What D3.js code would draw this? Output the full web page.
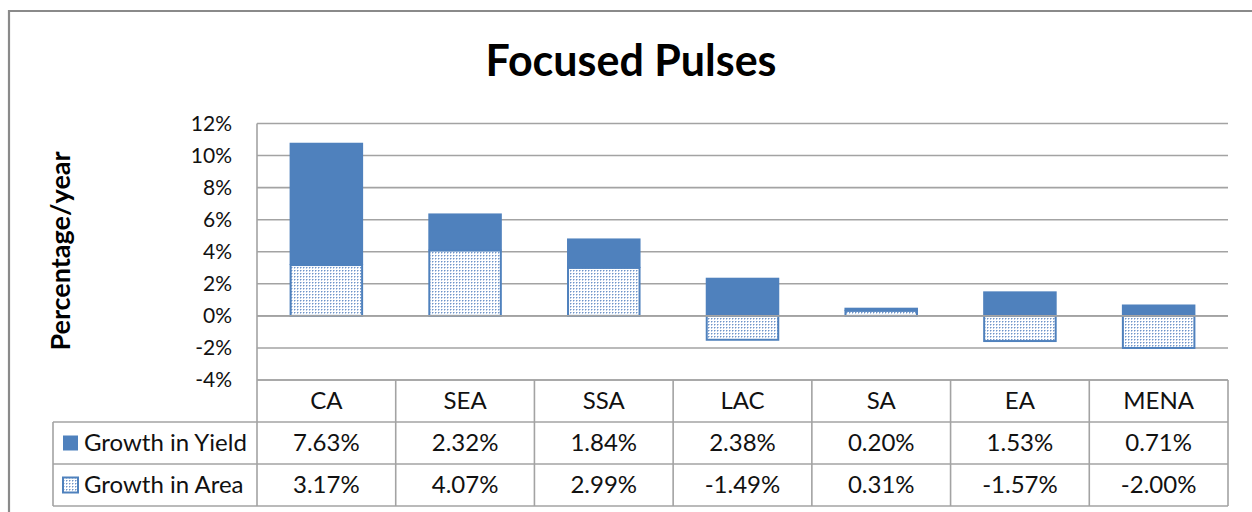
<!DOCTYPE html>
<html><head><meta charset="utf-8">
<script src="https://cdn.jsdelivr.net/npm/d3@7"></script>
<style>
html,body{margin:0;padding:0;background:#fff;}
svg{display:block;font-family:Lato,"Open Sans",sans-serif;}
</style></head>
<body><svg id="c" width="1252" height="512"></svg>
<script>
const title = "Focused Pulses";
const yLabel = "Percentage/year";
const categories = ["CA","SEA","SSA","LAC","SA","EA","MENA"];
const seriesNames = ["Growth in Yield","Growth in Area"];
const yieldValues = [7.63,2.32,1.84,2.38,0.20,1.53,0.71];
const areaValues = [3.17,4.07,2.99,-1.49,0.31,-1.57,-2.00];
const yieldLabels = ["7.63%","2.32%","1.84%","2.38%","0.20%","1.53%","0.71%"];
const areaLabels = ["3.17%","4.07%","2.99%","-1.49%","0.31%","-1.57%","-2.00%"];
const yTicks = [-4,-2,0,2,4,6,8,10,12];

const svg = d3.select("#c");
const blue = "#4F81BD", grid = "#a3a3a3", txt = "#111";
const L = 257, R = 1228, T = 123.5, B = 380;
const tableL = 53, rowH = 42;

// pattern for Area series
const defs = svg.append("defs");
const pat = defs.append("pattern").attr("id","dots").attr("patternUnits","userSpaceOnUse")
  .attr("width",3).attr("height",3);
pat.append("rect").attr("width",3).attr("height",3).attr("fill","#fff");
pat.append("rect").attr("x",0).attr("y",0).attr("width",1).attr("height",1).attr("fill","#6f95c8");
pat.append("rect").attr("x",1).attr("y",0).attr("width",1).attr("height",1).attr("fill","#b9cbe6");
pat.append("rect").attr("x",0).attr("y",1).attr("width",1).attr("height",1).attr("fill","#b9cbe6");

// outer chart border
svg.append("path").attr("d","M9,520 V11 H1260").attr("fill","none").attr("stroke","#8a8a8a").attr("stroke-width",2.2);

// title
svg.append("text").attr("x",631).attr("y",76).attr("text-anchor","middle")
  .attr("font-size",43).attr("font-weight","bold").attr("fill","#000").text(title);

// y label
svg.append("text").attr("transform","translate(70,251) rotate(-90)").attr("text-anchor","middle")
  .attr("font-size",27).attr("font-weight","bold").attr("fill","#000").text(yLabel);

const y = d3.scaleLinear().domain([-4,12]).range([B,T]);
const x = d3.scaleBand().domain(categories).range([L,R]).paddingInner(0.47).paddingOuter(0.235);
const col = d3.scaleBand().domain(categories).range([L,R]).padding(0);

// gridlines
svg.append("g").selectAll("line").data(yTicks).join("line")
  .attr("x1",L).attr("x2",R).attr("y1",d=>y(d)).attr("y2",d=>y(d))
  .attr("stroke",grid).attr("stroke-width",1.6);

// y axis
const yAxis = d3.axisLeft(y).tickValues(yTicks).tickFormat(d=>d+"%").tickSize(0).tickPadding(25);
const gy = svg.append("g").attr("transform",`translate(${L},0)`).call(yAxis);
gy.select(".domain").remove();
gy.selectAll("text").attr("font-size",21).attr("fill",txt).attr("font-family","Lato");

// bars
const stacks = categories.map((c,i)=>{
  const a = areaValues[i], yv = yieldValues[i];
  const aBase = 0, aTop = a;
  const yBase = a >= 0 ? a : 0, yTop = yBase + yv;
  return {c, aBase, aTop, yBase, yTop};
});
const gb = svg.append("g");
gb.selectAll("rect.yield").data(stacks).join("rect").attr("class","yield")
  .attr("x",d=>x(d.c)).attr("width",x.bandwidth())
  .attr("y",d=>y(Math.max(d.yBase,d.yTop))).attr("height",d=>Math.abs(y(d.yBase)-y(d.yTop)))
  .attr("fill",blue);
gb.selectAll("rect.area").data(stacks).join("rect").attr("class","area")
  .attr("x",d=>x(d.c)+1).attr("width",x.bandwidth()-2)
  .attr("y",d=>y(Math.max(d.aBase,d.aTop))).attr("height",d=>Math.abs(y(d.aBase)-y(d.aTop)))
  .attr("fill","url(#dots)").attr("stroke",blue).attr("stroke-width",2);
// zero line over negatives
svg.append("line").attr("x1",L).attr("x2",R).attr("y1",y(0)).attr("y2",y(0))
  .attr("stroke",grid).attr("stroke-width",1.6);

// axis line
svg.append("line").attr("x1",L).attr("x2",L).attr("y1",T).attr("y2",B+rowH*3)
  .attr("stroke",grid).attr("stroke-width",1.6);

// data table
const tg = svg.append("g");
const rowTop = [B, B+rowH, B+rowH*2, B+rowH*3];
tg.append("line").attr("x1",L).attr("x2",R).attr("y1",rowTop[0]).attr("y2",rowTop[0]).attr("stroke",grid).attr("stroke-width",1.6);
[1,2,3].forEach(k=>tg.append("line").attr("x1",tableL).attr("x2",R).attr("y1",rowTop[k]).attr("y2",rowTop[k]).attr("stroke",grid).attr("stroke-width",1.6));
categories.forEach(c=>{
  tg.append("line").attr("x1",col(c)+col.bandwidth()).attr("x2",col(c)+col.bandwidth())
    .attr("y1",rowTop[0]).attr("y2",rowTop[3]).attr("stroke",grid).attr("stroke-width",1.6);
});
tg.append("line").attr("x1",tableL).attr("x2",tableL).attr("y1",rowTop[1]).attr("y2",rowTop[3]).attr("stroke",grid).attr("stroke-width",1.6);

tg.selectAll("text.cat").data(categories).join("text").attr("class","cat")
  .attr("x",d=>col(d)+col.bandwidth()/2).attr("y",rowTop[0]+rowH/2+8)
  .attr("text-anchor","middle").attr("font-size",24).attr("fill",txt).text(d=>d);
const rows = [yieldLabels, areaLabels];
rows.forEach((labels,r)=>{
  tg.selectAll("text.v"+r).data(labels).join("text").attr("class","v"+r)
    .attr("x",(d,i)=>col(categories[i])+col.bandwidth()/2).attr("y",rowTop[r+1]+rowH/2+8)
    .attr("text-anchor","middle").attr("font-size",24).attr("fill",txt).text(d=>d);
  tg.append("rect").attr("x",tableL+10).attr("y",rowTop[r+1]+rowH/2-7.5).attr("width",15).attr("height",15)
    .attr("fill", r===0 ? blue : "url(#dots)").attr("stroke", blue).attr("stroke-width", r===0?0:2);
  tg.append("text").attr("x",tableL+31).attr("y",rowTop[r+1]+rowH/2+8)
    .attr("font-size",24).attr("fill",txt).text(seriesNames[r]);
});
</script></body></html>
